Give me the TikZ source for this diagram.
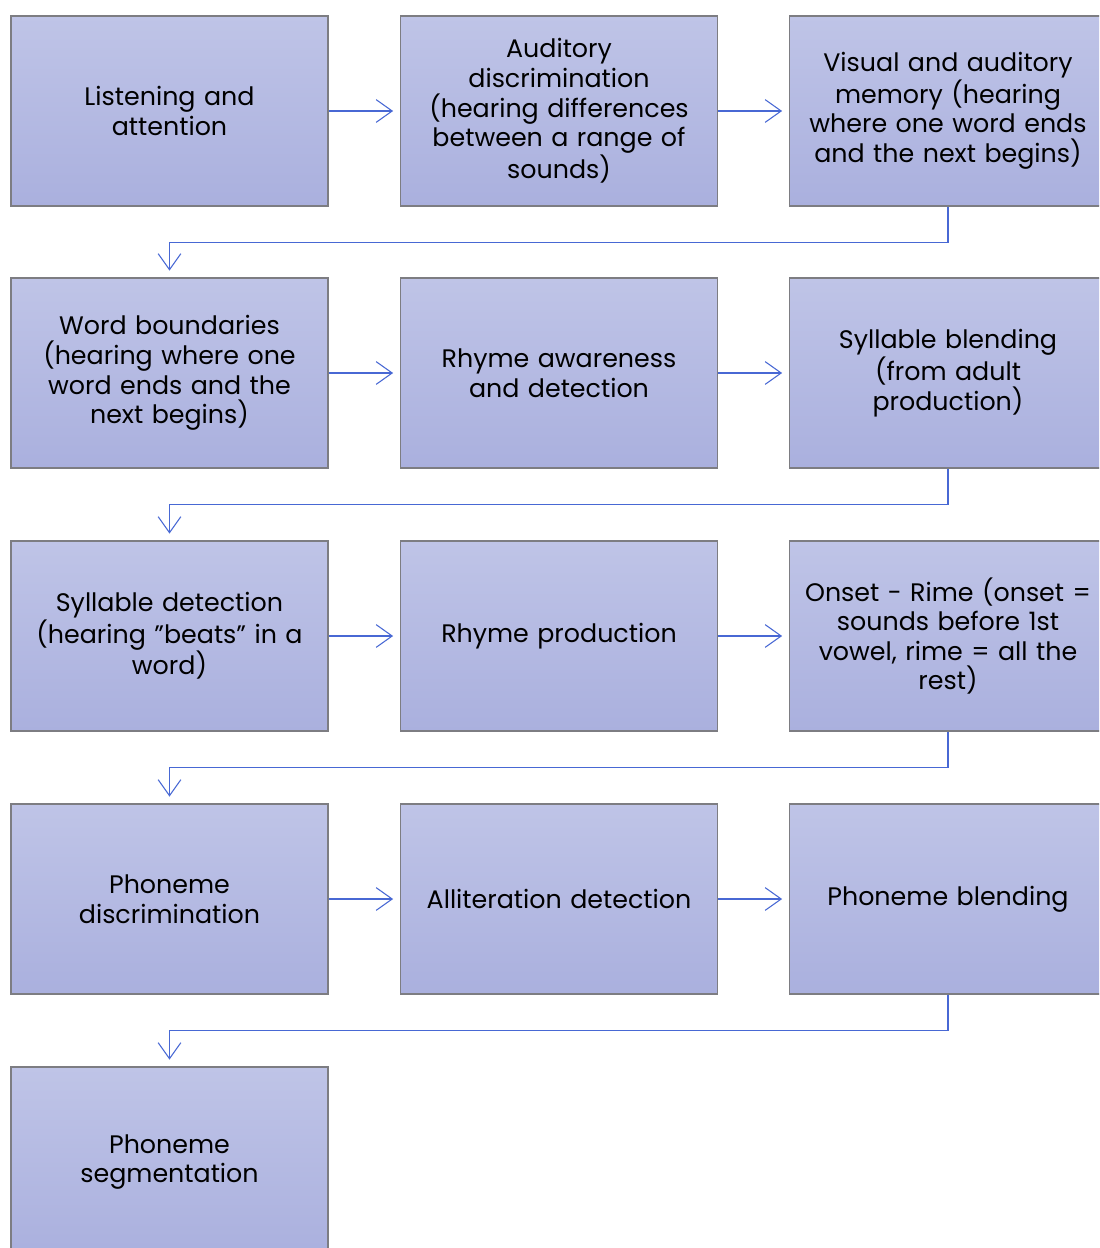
\documentclass[tikz,border=0pt]{standalone}
\usepackage{fontspec}
\setmainfont{Poppins}
\usetikzlibrary{arrows.meta,positioning,calc}
\definecolor{boxtop}{RGB}{191,196,231}
\definecolor{boxbot}{RGB}{170,176,222}
\definecolor{boxline}{RGB}{125,125,130}
\definecolor{arrowc}{RGB}{72,104,212}
\tikzset{
  stagebox/.style={draw=boxline, line width=1.1pt, top color=boxtop, bottom color=boxbot,
    minimum width=317*0.75pt, minimum height=190*0.75pt, inner sep=0pt,
    align=center, text width=300*0.75pt, font=\fontsize{19pt}{22.2pt}\selectfont},
  flow/.style={draw=arrowc, line width=0.8pt, -{Straight Barb[length=12pt,width=17pt,line width=0.8pt]}, shorten >=5pt},
}
\begin{document}
\begin{tikzpicture}[x=0.75pt,y=-0.75pt]
\clip (0,0) rectangle (1099,1248);
\fill[white] (0,0) rectangle (1099,1248);
% row 1
\node[stagebox] (a1) at (169.5,111) {Listening and\\attention};
\node[stagebox] (a2) at (559,111) {Auditory\\discrimination\\(hearing differences\\between a range of\\sounds)};
\node[stagebox] (a3) at (948,111) {Visual and auditory\\memory (hearing\\where one word ends\\and the next begins)};
% row 2
\node[stagebox] (b1) at (169.5,373) {Word boundaries\\(hearing where one\\word ends and the\\next begins)};
\node[stagebox] (b2) at (559,373) {Rhyme awareness\\and detection};
\node[stagebox] (b3) at (948,373) {Syllable blending\\(from adult\\production)};
% row 3
\node[stagebox] (c1) at (169.5,636) {Syllable detection\\(hearing "beats" in a\\word)};
\node[stagebox] (c2) at (559,636) {Rhyme production};
\node[stagebox] (c3) at (948,636) {Onset - Rime (onset =\\sounds before 1st\\vowel, rime = all the\\rest)};
% row 4
\node[stagebox] (d1) at (169.5,899) {Phoneme\\discrimination};
\node[stagebox] (d2) at (559,899) {Alliteration detection};
\node[stagebox] (d3) at (948,899) {Phoneme blending};
% row 5
\node[stagebox] (e1) at (169.5,1162) {Phoneme\\segmentation};
% horizontal connectors
\draw[flow] (a1.east) -- (a2.west);
\draw[flow] (a2.east) -- (a3.west);
\draw[flow] (b1.east) -- (b2.west);
\draw[flow] (b2.east) -- (b3.west);
\draw[flow] (c1.east) -- (c2.west);
\draw[flow] (c2.east) -- (c3.west);
\draw[flow] (d1.east) -- (d2.west);
\draw[flow] (d2.east) -- (d3.west);
% row-to-row connectors
\draw[flow] (a3.south) -- ++(0,36) -| (b1.north);
\draw[flow] (b3.south) -- ++(0,36) -| (c1.north);
\draw[flow] (c3.south) -- ++(0,36) -| (d1.north);
\draw[flow] (d3.south) -- ++(0,36) -| (e1.north);
\end{tikzpicture}
\end{document}
